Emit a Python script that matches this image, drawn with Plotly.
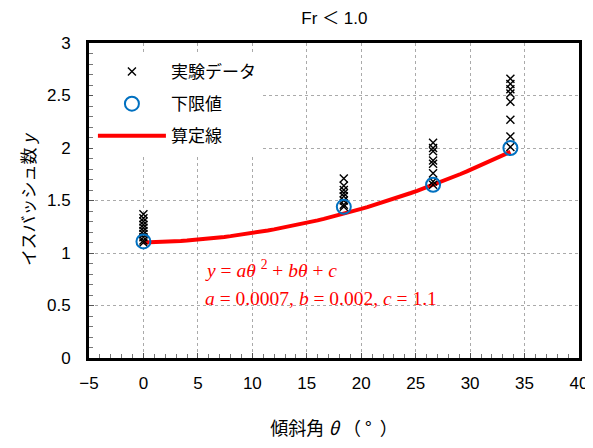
import plotly.graph_objects as go
import numpy as np

# Data
exp_theta = [0]*10 + [18.4]*8 + [26.6]*8 + [33.7]*8
exp_y = [1.37, 1.33, 1.30, 1.27, 1.24, 1.21, 1.18, 1.15, 1.12, 1.10,
         1.71, 1.64, 1.60, 1.57, 1.54, 1.50, 1.46, 1.44,
         2.05, 2.00, 1.97, 1.88, 1.85, 1.76, 1.68, 1.65,
         2.66, 2.61, 2.56, 2.52, 2.44, 2.27, 2.11, 2.01]
lower_theta = [0, 18.4, 26.6, 33.7]
lower_y = [1.11, 1.44, 1.65, 2.00]
coef_a, coef_b, coef_c = 0.0007, 0.002, 1.1
curve_theta = np.linspace(0, 33.7, 60)
curve_y = coef_a*curve_theta**2 + coef_b*curve_theta + coef_c

FONT = "Liberation Sans, Arial, Noto Sans CJK JP, sans-serif"
CJK = "Noto Sans CJK JP, sans-serif"
SERIF = "Liberation Serif, Times New Roman, serif"

fig = go.Figure()
fig.add_trace(go.Scatter(x=curve_theta, y=curve_y, mode="lines", name="算定線",
                         line=dict(color="#FF0000", width=4),
                         legendgroup="c", legendrank=3))
fig.add_trace(go.Scatter(x=exp_theta, y=exp_y, mode="markers", name="実験データ",
                         marker=dict(symbol="x-thin", size=8, line=dict(color="black", width=1.4)),
                         legendgroup="a", legendrank=1))
fig.add_trace(go.Scatter(x=lower_theta, y=lower_y, mode="markers", name="下限値",
                         marker=dict(symbol="circle-open", size=14, color="#0070C0",
                                     line=dict(color="#0070C0", width=2)),
                         legendgroup="b", legendrank=2))

# white box behind equation
fig.add_shape(type="rect", xref="paper", yref="paper", x0=0.212, x1=0.75, y0=0.127, y1=0.343,
              fillcolor="white", line=dict(width=0), layer="below")
fig.add_annotation(
    x=0.232, y=0.282, xref="paper", yref="paper", xanchor="left", yanchor="middle",
    text="<i>y</i> = <i>aθ</i> <sup>2</sup> + <i>bθ</i> + <i>c</i>",
    showarrow=False, align="left",
    font=dict(family=SERIF, size=19.5, color="#FF0000"))
fig.add_annotation(
    x=0.232, y=0.19, xref="paper", yref="paper", xanchor="left", yanchor="middle",
    text="<i>a</i> = 0.0007, <i>b</i> = 0.002, <i>c</i> = 1.1",
    showarrow=False, align="left",
    font=dict(family=SERIF, size=19.5, color="#FF0000"))

fig.update_layout(
    width=585, height=440,
    margin=dict(l=81, r=14, t=35, b=90),
    paper_bgcolor="white", plot_bgcolor="white",
    font=dict(family=FONT, size=17, color="black"),
    title=dict(text="Fr ＜ 1.0", x=0.558, xanchor="center", y=0.977, yanchor="middle",
               font=dict(size=17, family=FONT)),
    showlegend=True,
    legend=dict(x=0.008, y=0.965, xanchor="left", yanchor="top", bgcolor="white",
                borderwidth=0, tracegroupgap=7, font=dict(size=17, family=FONT),
                itemwidth=68),
    xaxis=dict(range=[-5, 40], dtick=5, tick0=0, showline=True, linecolor="black", linewidth=3,
               mirror=True, ticks="inside", ticklen=5, tickcolor="#555", automargin=False,
               showgrid=True, gridcolor="#aaaaaa", griddash="dot", gridwidth=1,
               zeroline=False, ticklabelstandoff=8,
               minor=dict(dtick=1, ticks="inside", ticklen=4, tickcolor="#777", showgrid=False),
               title=dict(text="傾斜角 <i>θ</i>&nbsp;（&nbsp;°&nbsp;&nbsp;）", standoff=30,
                          font=dict(size=18, family=CJK))),
    yaxis=dict(range=[0, 3], dtick=0.5, showline=True, linecolor="black", linewidth=3,
               mirror=True, ticks="inside", ticklen=5, tickcolor="#555", automargin=False,
               showgrid=True, gridcolor="#aaaaaa", griddash="dot", gridwidth=1,
               zeroline=False, ticklabelstandoff=12,
               minor=dict(dtick=0.1, ticks="inside", ticklen=4, tickcolor="#777", showgrid=False),
               title=dict(text="イスバッシュ数 <i>y</i>", standoff=8, font=dict(size=17, family=CJK))),
)

fig.write_html("out.html")
